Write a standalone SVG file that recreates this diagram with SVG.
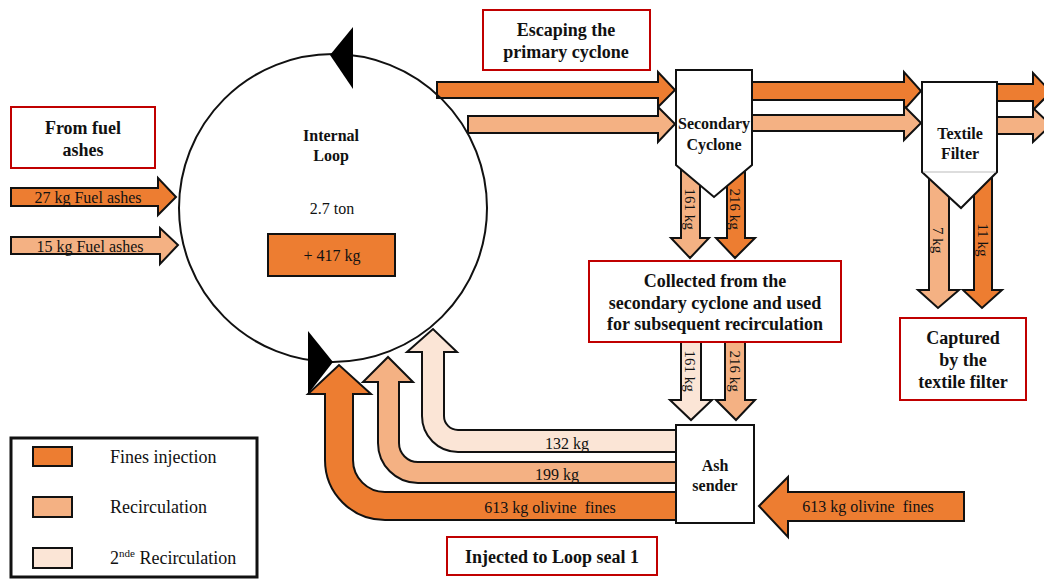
<svg xmlns="http://www.w3.org/2000/svg" width="1044" height="579" viewBox="0 0 1044 579">
<style>
text{font-family:"Liberation Serif","Times New Roman",serif;fill:#111}
.b{font-weight:bold;font-size:18px;text-anchor:middle}
.n{font-weight:bold;font-size:16px;text-anchor:middle}
.l{font-size:16px;text-anchor:middle;white-space:pre}
.r{font-size:15px;text-anchor:middle;dominant-baseline:central}
.lg{font-size:18px}
.red{fill:#fff;stroke:#C00000;stroke-width:2}
.dk{fill:#ED7D31;stroke:#111;stroke-width:2;stroke-linejoin:miter}
.pc{fill:#F4B183;stroke:#111;stroke-width:2;stroke-linejoin:miter}
.lt{fill:#FBE5D6;stroke:#111;stroke-width:2;stroke-linejoin:miter}
.box{fill:#fff;stroke:#111;stroke-width:2}
</style>
<rect width="1044" height="579" fill="#fff"/>

<g id="connectors">
  <!-- circle to secondary cyclone -->
  <polygon class="dk" points="437,82 658,82 658,72 675,90 658,107 658,98 437,98"/>
  <polygon class="pc" points="468,116 658,116 658,107 675,124 658,142 658,133 468,133"/>
  <!-- cyclone to filter -->
  <polygon class="dk" points="752,82 904,82 904,72 921,91 904,110 904,100 752,100"/>
  <polygon class="pc" points="752,115 904,115 904,106 921,123 904,140 904,131 752,131"/>
  <!-- filter out -->
  <polygon class="dk" points="997,84 1033,84 1033,73 1051,92 1033,110 1033,101 997,101"/>
  <polygon class="pc" points="997,117 1033,117 1033,108 1051,125 1033,142 1033,134 997,134"/>
  <!-- fuel ashes -->
  <polygon class="dk" points="11,188 158,188 158,178 176,197 158,215 158,206 11,206"/>
  <polygon class="pc" points="11,237 160,237 160,228 178,245 160,264 160,254 11,254"/>
  <!-- cyclone down -->
  <polygon class="pc" points="681,160 700,160 700,238 709,238 690,258 671,238 681,238"/>
  <polygon class="dk" points="727,160 745,160 745,238 755,238 735,258 716,238 727,238"/>
  <!-- filter down -->
  <polygon class="pc" points="929,168 949,168 949,290 959,290 938,308 918,290 929,290"/>
  <polygon class="dk" points="974,168 992,168 992,290 1002,290 982,308 963,290 974,290"/>
  <!-- collected to ash sender -->
  <polygon class="lt" points="681,336 701,336 701,400 712,400 691,420 670,400 681,400"/>
  <polygon class="pc" points="725,336 745,336 745,400 755,400 736,420 716,400 725,400"/>
  <!-- olivine input -->
  <polygon class="dk" points="964,492 788,492 788,477 759,506 788,537 788,521 964,521"/>
  <!-- U-turn arrows back to loop -->
  <path class="dk" d="M676,492 L385,492 A32,32 0 0 1 353,460 L353,394 L371,394 L339,365 L308,394 L325,394 L325,460 A60,60 0 0 0 385,520 L676,520 Z"/>
  <path class="pc" d="M676,462 L418,462 A19,19 0 0 1 399,443 L399,382 L413,382 L388,357 L363,382 L378,382 L378,443 A40,40 0 0 0 418,483 L676,483 Z"/>
  <path class="lt" d="M676,430 L458,430 A14,14 0 0 1 444,416 L444,352 L457,352 L433,329 L407,352 L422,352 L422,416 A36,36 0 0 0 458,452 L676,452 Z"/>
  <!-- labels on connectors -->
  <text class="l" x="88" y="203">27 kg Fuel ashes</text>
  <text class="l" x="90" y="252">15 kg Fuel ashes</text>
  <text class="l" x="567" y="449">132 kg</text>
  <text class="l" x="557" y="480">199 kg</text>
  <text class="l" x="550" y="513">613 kg olivine  fines</text>
  <text class="l" x="868" y="512">613 kg olivine  fines</text>
  <text class="r" transform="translate(690,209) rotate(90)">161 kg</text>
  <text class="r" transform="translate(735,209) rotate(90)">216 kg</text>
  <text class="r" transform="translate(690,371) rotate(90)">161 kg</text>
  <text class="r" transform="translate(735,371) rotate(90)">216 kg</text>
  <text class="r" transform="translate(938,240) rotate(90)">7 kg</text>
  <text class="r" transform="translate(983,240) rotate(90)">11 kg</text>
</g>

<g id="internal-loop">
  <circle cx="333" cy="208" r="154" fill="none" stroke="#111" stroke-width="2"/>
  <polygon points="330,55 353,27 353,89" fill="#000"/>
  <polygon points="308,331 333,362 308,394" fill="#000"/>
  <text class="n" x="331" y="141">Internal</text>
  <text class="n" x="331" y="161">Loop</text>
  <text class="l" x="332" y="214">2.7 ton</text>
  <rect x="268" y="234" width="127" height="42" fill="#ED7D31" stroke="#111" stroke-width="2"/>
  <text class="l" x="332" y="261">+ 417 kg</text>
</g>

<g id="from-fuel-ashes">
  <rect class="red" x="11" y="107" width="144" height="61"/>
  <text class="b" x="83" y="134">From fuel</text>
  <text class="b" x="83" y="156">ashes</text>
</g>

<g id="escaping">
  <rect class="red" x="483" y="10" width="167" height="60"/>
  <text class="b" x="566" y="36">Escaping the</text>
  <text class="b" x="566" y="58">primary cyclone</text>
</g>

<g id="secondary-cyclone">
  <polygon class="box" points="676,70 752,70 752,165 714,197 676,165"/>
  <text class="n" x="714" y="129">Secondary</text>
  <text class="n" x="714" y="150">Cyclone</text>
</g>

<g id="textile-filter">
  <polygon class="box" points="922,82 997,82 997,172 961,208 922,172"/>
  <line x1="923" y1="172" x2="996" y2="172" stroke="#bbb" stroke-width="1"/>
  <text class="n" x="960" y="139">Textile</text>
  <text class="n" x="960" y="159">Filter</text>
</g>

<g id="collected">
  <rect class="red" x="589" y="261" width="252" height="81"/>
  <text class="b" x="715" y="287">Collected from the</text>
  <text class="b" x="715" y="309">secondary cyclone and used</text>
  <text class="b" x="715" y="330">for subsequent recirculation</text>
</g>

<g id="captured">
  <rect class="red" x="900" y="318" width="126" height="82"/>
  <text class="b" x="963" y="344">Captured</text>
  <text class="b" x="963" y="366">by the</text>
  <text class="b" x="963" y="388">textile filter</text>
</g>

<g id="ash-sender">
  <rect class="box" x="676" y="425" width="78" height="98"/>
  <text class="n" x="715" y="471">Ash</text>
  <text class="n" x="715" y="491">sender</text>
</g>

<g id="injected">
  <rect class="red" x="447" y="537" width="210" height="38"/>
  <text class="b" x="552" y="563">Injected to Loop seal 1</text>
</g>

<g id="legend">
  <rect x="11" y="438" width="246" height="139" fill="#fff" stroke="#111" stroke-width="3"/>
  <rect class="dk" x="33" y="447" width="39" height="19"/>
  <rect class="pc" x="33" y="497" width="39" height="20"/>
  <rect class="lt" x="33" y="548" width="39" height="20"/>
  <text class="lg" x="110" y="463">Fines injection</text>
  <text class="lg" x="110" y="513">Recirculation</text>
  <text class="lg" x="110" y="564">2<tspan font-size="11" dy="-7">nde</tspan><tspan dy="7"> Recirculation</tspan></text>
</g>
</svg>
